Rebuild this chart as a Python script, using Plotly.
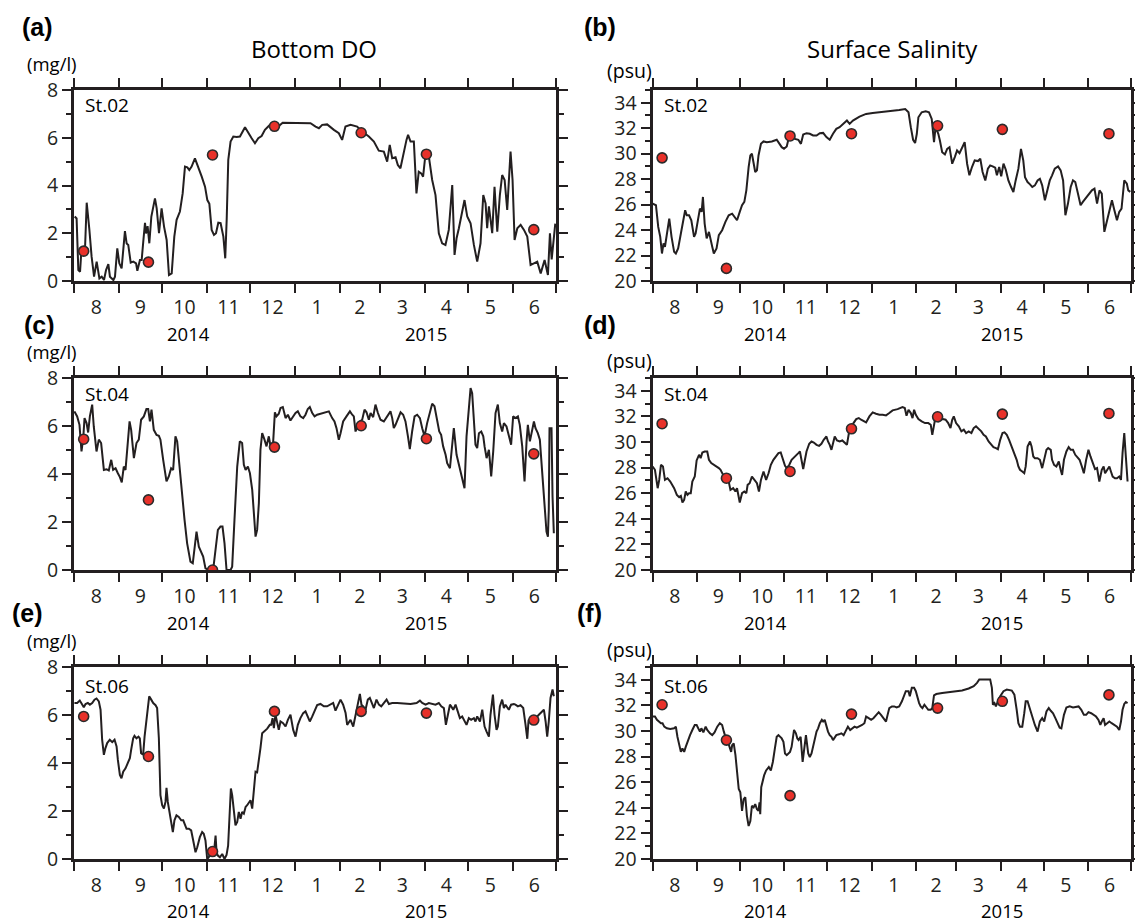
import pandas as pd
import plotly.graph_objects as go

W, H = 1135, 923
START = pd.Timestamp("2014-08-01")
END = pd.Timestamp("2015-07-01")

INK = "#231f20"
DOT = "#e8312a"
FONT = "Open Sans"

# Survey (ship observation) days, counted from 1 Aug 2014
obs_day = [6.7, 51.6, 96.0, 138.9, 199.0, 244.2, 318.6]

# ---- St.02 bottom DO (mg/l) ----
a_day = [0.5, 1.8, 3.0, 4.2, 5.3, 6.5, 7.6, 8.8, 10.6, 12.2, 13.9, 15.7, 17.6, 19.2, 20.8, 22.2, 23.8, 24.9, 27.3, 28.4,
         30.0, 31.4, 33.0, 35.3, 36.5, 37.6, 39.3, 41.1, 43.0, 43.9, 45.7, 46.9, 48.0, 49.2, 49.9, 51.0, 52.2, 53.6, 56.1, 57.3,
         58.9, 60.7, 62.4, 64.2, 65.8, 67.7, 69.5, 71.1, 73.4, 75.3, 76.9, 78.5, 79.9, 81.5, 83.8, 86.1, 88.5, 90.8, 92.4, 93.8,
         95.4, 97.0, 98.4, 100.0, 101.6, 103.5, 104.8, 105.8, 106.9, 108.5, 110.4, 112.7, 115.0, 118.5, 120.8, 123.1, 125.4, 127.7, 130.0, 132.3,
         134.6, 136.9, 139.3, 141.6, 144.6, 149.7,
         157.0, 163.9, 167.4, 169.7, 172.0, 175.4, 180.1, 183.5, 185.8, 188.1, 191.6, 196.2, 199.7, 204.3, 207.8, 211.2, 214.7, 217.0, 218.8, 220.5,
         222.8, 224.4, 226.2, 228.5, 230.4, 231.5, 233.2, 235.5, 237.3, 238.9, 240.6, 241.9, 243.5, 245.9, 248.2, 250.5, 252.8, 255.1, 257.4, 259.7,
         262.1, 263.7, 265.1, 266.7, 269.0, 270.6, 272.5, 274.8, 277.1, 279.4, 281.7, 283.6, 285.2, 286.3, 287.5, 288.7, 289.8, 291.4, 293.3, 295.1,
         296.7, 298.4, 300.2, 302.5, 303.9, 305.3, 307.2, 309.5, 311.8, 314.1, 316.4, 318.7, 321.0, 323.4, 326.1, 328.4, 329.8, 331.0, 333.5]
a_val = [2.70, 2.62, 0.46, 0.39, 1.44, 1.16, 1.30, 3.28, 2.18, 1.02, 0.18, 0.81, 0.11, 0.18, 0.04, 0.46, 0.71, 0.18, 0.04, 0.18,
         1.37, 0.74, 0.53, 2.09, 1.57, 1.51, 0.77, 0.81, 0.74, 0.43, 0.88, 0.88, 1.65, 2.44, 1.99, 2.30, 1.58, 2.70, 3.46, 3.04,
         2.00, 3.04, 2.28, 1.72, 0.25, 0.32, 1.86, 2.56, 2.91, 3.67, 4.79, 4.76, 4.65, 4.79, 5.14, 4.79, 4.37, 3.95, 3.39, 3.23,
         2.14, 1.93, 2.00, 2.44, 2.42, 1.86, 0.95, 2.56, 5.07, 5.84, 6.05, 6.03, 6.05, 6.44, 6.19, 5.98, 5.77, 5.98, 6.07, 6.33,
         6.47, 6.61, 6.40, 6.47, 6.63, 6.63,
         6.63, 6.61, 6.47, 6.40, 6.54, 6.56, 6.33, 6.19, 5.91, 6.47, 6.54, 6.47, 6.26, 6.05, 5.84, 5.46, 5.42, 5.00, 5.70, 5.14,
         5.18, 4.86, 4.72, 5.42, 5.91, 6.12, 5.84, 5.84, 3.67, 4.58, 4.51, 4.37, 5.28, 5.21, 4.23, 3.60, 2.00, 1.58, 1.51, 2.14,
         4.02, 1.09, 1.79, 2.21, 2.91, 3.39, 2.70, 2.42, 1.51, 0.81, 1.58, 3.60, 3.25, 2.21, 3.13, 2.56, 2.00, 3.95, 2.07, 3.60,
         4.44, 4.23, 2.98, 5.42, 4.23, 1.72, 2.21, 2.35, 2.14, 1.86, 0.67, 0.74, 0.81, 0.32, 0.88, 0.25, 2.00, 0.90, 2.40]
a_obs = [1.25, 0.79, 5.28, 6.48, 6.21, 5.31, 2.15]

# ---- St.02 surface salinity (psu) ----
b_day = [0.1, 2.4, 4.0, 5.4, 6.6, 7.7, 8.7, 10.5, 11.7, 13.3, 15.1, 16.3, 17.9, 19.8, 21.6, 22.8, 23.9, 25.5, 27.1, 29.0,
         30.1, 31.8, 33.1, 34.3, 35.2, 36.4, 37.8, 39.4, 40.5, 41.7, 42.8, 44.7, 46.3, 48.6, 50.9, 53.2, 55.6, 57.2, 59.0, 60.9,
         62.5, 64.1, 65.5, 67.1, 68.3, 69.4, 70.6, 71.7, 72.9, 74.0, 75.7, 77.5, 79.8, 83.3, 86.7, 88.6, 90.2, 91.8, 93.7, 95.5,
         97.1, 99.4, 101.8, 103.6, 105.2, 107.5, 109.8, 112.1, 114.5, 116.8, 119.1, 121.4, 123.7, 126.0, 128.3, 130.6, 132.9, 135.7, 137.6, 139.9,
         144.5, 149.1, 153.7, 158.4,
         165.3, 172.2, 176.4, 178.7, 180.3, 181.9, 183.3, 184.5, 185.6, 187.9, 190.7, 193.0, 194.9, 196.5, 197.6, 199.5, 200.6, 202.2, 204.1, 205.7,
         207.3, 209.2, 211.0, 212.6, 214.3, 215.6, 217.9, 219.6, 221.2, 223.0, 224.9, 227.2, 228.8, 230.4, 232.3, 234.1, 235.7, 237.4, 239.2, 240.4,
         242.0, 243.4, 245.0, 246.6, 248.4, 250.3, 251.9, 253.5, 255.4, 257.2, 258.8, 260.0, 261.8, 263.5, 265.1, 266.9, 268.8, 270.4, 272.0, 273.9,
         275.7, 277.3, 278.9, 280.8, 283.1, 284.9, 286.6, 288.2, 290.0, 291.9, 293.5, 295.1, 297.0, 298.8, 300.4, 301.6, 303.4, 305.0, 306.7, 308.5,
         310.3, 312.0, 313.6, 315.4, 317.3, 318.9, 320.7, 322.4, 324.2, 325.8, 327.4, 329.3, 331.1, 332.1, 333.5]
b_val = [26.08, 25.95, 24.25, 23.47, 22.16, 22.95, 22.69, 23.86, 24.90, 23.47, 22.29, 22.16, 22.56, 23.73, 24.77, 25.56, 25.16, 25.16, 24.77, 23.47,
         23.73, 24.77, 25.69, 25.43, 26.60, 24.51, 23.34, 23.86, 23.21, 22.69, 22.16, 22.56, 23.60, 23.99, 24.64, 25.16, 25.29, 25.03, 24.77, 25.43,
         25.95, 26.21, 27.12, 28.95, 29.86, 29.99, 29.34, 28.56, 28.69, 29.86, 30.77, 30.96, 30.90, 30.96, 31.09, 30.77, 30.51, 30.38, 30.56, 31.43,
         31.50, 31.16, 31.09, 30.77, 31.50, 31.61, 31.56, 31.43, 31.43, 31.61, 31.63, 31.30, 31.09, 31.56, 31.95, 32.08, 32.29, 32.60, 32.34, 32.60,
         32.91, 33.12, 33.20, 33.25,
         33.33, 33.43, 33.51, 33.25, 32.08, 31.09, 30.83, 31.56, 32.86, 33.25, 33.33, 33.25, 32.73, 30.90, 32.08, 31.56, 31.03, 30.12, 29.94, 30.38,
         30.51, 29.21, 29.73, 30.25, 30.04, 30.38, 30.90, 29.21, 28.30, 28.95, 29.47, 29.42, 29.60, 28.56, 27.90, 28.82, 29.08, 29.00, 28.90, 28.30,
         28.95, 28.22, 29.21, 28.74, 27.90, 27.38, 26.99, 27.90, 28.82, 30.38, 29.47, 28.16, 27.77, 27.59, 27.38, 27.51, 27.90, 28.03, 27.51, 26.34,
         27.12, 27.90, 28.30, 28.82, 29.00, 28.69, 27.90, 25.16, 26.08, 27.38, 27.90, 27.77, 26.86, 25.95, 26.21, 26.39, 26.60, 26.86, 27.12, 27.25,
         26.08, 27.12, 26.86, 23.86, 24.77, 25.29, 26.34, 25.56, 24.77, 25.43, 25.69, 27.90, 27.64, 27.12, 27.00]
b_obs = [29.67, 20.99, 31.39, 31.57, 32.19, 31.91, 31.57]

# ---- St.04 bottom DO (mg/l) ----
c_day = [0.3, 2.2, 3.8, 5.2, 6.4, 7.3, 8.7, 9.8, 11.0, 12.6, 13.7, 15.6, 17.2, 18.8, 20.7, 22.5, 24.1, 25.8, 27.1, 28.8,
         30.4, 31.8, 33.1, 34.5, 35.7, 36.8, 38.5, 39.6, 41.5, 43.3, 44.9, 46.5, 48.4, 50.2, 51.4, 52.6, 53.7, 55.3, 57.2, 58.8,
         59.9, 61.8, 64.1, 65.7, 67.3, 68.7, 70.3, 71.5, 73.3, 74.9, 76.6, 78.4, 80.7, 82.3, 83.5, 84.9, 86.5, 87.7, 89.5, 91.1,
         93.4, 96.4, 98.1, 99.7, 101.5, 102.9, 104.3, 105.7, 108.5, 109.6, 111.2, 113.1, 114.9, 116.5, 117.7, 118.9, 120.5, 121.9, 123.5, 124.6,
         125.8, 126.9, 128.1, 129.2, 130.4, 132.0, 133.4, 135.0, 136.2, 137.8, 139.2, 140.3, 141.9, 143.1, 144.7, 146.6, 148.2, 150.0, 151.9, 153.5,
         155.1, 156.9, 158.8, 160.4, 162.0, 163.4, 165.1, 166.7, 168.5, 171.3, 174.3, 176.6, 178.9, 180.5, 181.9, 183.5, 184.7, 186.5, 188.8, 191.2,
         192.8, 193.9, 195.1, 196.7, 198.1, 199.7, 201.3, 202.7, 204.3, 205.5, 207.3, 208.9, 210.6, 212.4, 214.7, 217.0, 219.3, 220.5, 221.6, 222.8,
         224.4, 226.3, 228.1, 229.7, 231.4, 232.7, 234.3, 236.0, 237.8, 239.7, 241.3, 242.9, 244.7, 246.6, 248.2, 249.8, 251.7, 253.1, 254.4, 255.8,
         257.5, 258.6, 260.5, 262.1, 263.2, 265.1, 266.7, 267.8, 269.0, 270.6, 272.0, 273.6, 274.8, 275.9, 277.1, 278.2, 279.4, 280.6, 282.2, 283.6,
         284.5, 285.9, 287.5, 289.1, 290.5, 292.1, 293.7, 295.1, 296.7, 297.9, 299.7, 301.3, 302.9, 304.3, 305.9, 307.6, 308.9, 310.6, 312.2, 313.6,
         314.5, 315.9, 317.5, 318.7, 319.8, 321.4, 322.8, 324.4, 326.0, 327.4, 328.4, 329.0, 329.5, 330.9, 331.6, 332.5]
c_val = [6.61, 6.40, 6.05, 4.94, 5.50, 6.33, 6.12, 5.73, 6.40, 6.89, 5.98, 4.94, 5.43, 5.29, 4.17, 4.20, 4.15, 4.59, 4.17, 4.24,
         4.03, 3.87, 3.65, 4.31, 4.17, 5.08, 6.19, 5.84, 4.66, 5.29, 5.43, 6.26, 6.40, 6.71, 6.71, 6.19, 6.68, 5.84, 5.63, 5.59,
         5.43, 4.59, 3.69, 3.90, 4.24, 4.17, 5.57, 5.36, 4.17, 3.06, 2.09, 1.11, 0.35, 0.28, 0.90, 1.60, 0.97, 0.77, 0.56, 0.07,
         0.00, 0.00, 0.97, 1.67, 1.81, 1.81, 1.11, 0.00, 0.00, 0.14, 2.09, 4.31, 5.36, 5.29, 4.38, 4.17, 4.31, 4.03, 3.34, 2.50,
         1.39, 1.67, 2.78, 5.01, 5.70, 5.43, 5.15, 5.57, 5.15, 5.12, 6.57, 6.40, 6.51, 6.75, 6.79, 6.33, 6.47, 6.23, 6.43, 6.54,
         6.61, 6.40, 6.33, 6.47, 6.71, 6.79, 6.54, 6.40, 6.47, 6.51, 6.57, 6.61, 6.33, 6.19, 5.91, 5.43, 5.70, 6.19, 6.40, 6.61,
         6.47, 6.40, 5.77, 6.05, 6.19, 6.26, 6.68, 6.57, 6.26, 6.54, 6.37, 6.89, 6.54, 6.26, 6.19, 6.40, 6.61, 6.33, 5.91, 6.05,
         6.26, 6.57, 6.47, 6.19, 5.57, 5.04, 5.77, 6.40, 6.47, 6.33, 5.91, 5.57, 6.12, 6.54, 6.93, 6.82, 6.12, 5.77, 5.63, 5.15,
         4.80, 4.45, 4.24, 5.15, 5.91, 4.80, 4.38, 4.17, 3.76, 3.41, 5.57, 6.96, 7.58, 7.37, 6.40, 5.22, 5.08, 5.70, 5.77, 5.57,
         5.15, 4.66, 5.01, 3.90, 4.94, 6.54, 6.89, 6.12, 5.77, 6.12, 5.98, 5.57, 5.22, 6.40, 6.33, 6.40, 6.05, 5.15, 3.69, 5.36,
         6.05, 5.36, 5.77, 6.19, 5.91, 5.70, 5.43, 4.17, 2.50, 1.60, 1.39, 2.50, 5.91, 5.91, 3.06, 1.53]
c_obs = [5.45, 2.92, 0.00, 5.12, 6.01, 5.47, 4.84]

# ---- St.04 surface salinity (psu) ----
d_day = [0.1, 1.7, 3.6, 4.7, 5.9, 7.3, 8.7, 10.5, 12.4, 14.0, 15.1, 17.0, 18.6, 19.8, 20.9, 22.1, 23.2, 24.4, 25.5, 26.7,
         27.8, 29.5, 30.8, 32.5, 33.6, 34.8, 36.4, 38.2, 39.4, 41.0, 42.9, 44.7, 46.3, 47.5, 49.3, 50.9, 52.1, 53.2, 54.4, 56.3,
         57.9, 59.0, 60.9, 62.5, 64.1, 65.5, 66.4, 67.8, 69.4, 71.0, 72.9, 74.3, 75.7, 77.5, 79.3, 81.0, 82.6, 84.4, 86.3, 87.9,
         89.5, 90.9, 92.5, 93.7, 95.5, 97.1, 98.3, 100.6, 101.8, 102.9, 104.1, 105.2, 106.4, 107.5, 109.4, 111.0, 112.6, 114.5, 116.3, 117.9,
         119.5, 121.4, 122.5, 123.7, 124.9, 126.0, 127.2, 128.8, 130.6, 132.5, 134.1, 135.7, 137.1, 138.7, 140.3, 142.2, 144.0, 145.6, 147.3, 149.1,
         151.4, 153.7, 156.0, 158.4, 160.7, 163.0, 165.3, 167.6, 171.1, 174.5, 176.1, 177.3, 178.7, 180.3, 181.5, 182.6, 183.8, 185.6, 187.9, 190.2,
         192.5, 194.2, 195.3, 196.5, 197.6, 199.5, 201.1, 202.7, 204.6, 206.4, 208.0, 209.2, 210.3, 211.9, 213.8, 215.6, 217.3, 218.9, 220.7, 222.6,
         224.2, 225.8, 227.7, 229.5, 231.1, 232.7, 234.6, 236.4, 238.0, 239.7, 241.1, 242.7, 244.3, 245.7, 247.3, 248.9, 250.3, 251.9, 253.1, 254.2,
         255.4, 256.5, 258.1, 259.5, 260.5, 261.8, 263.5, 264.6, 265.8, 266.9, 268.8, 270.4, 272.0, 273.4, 275.0, 276.2, 278.0, 278.9, 280.3, 281.9,
         283.6, 284.9, 285.9, 287.2, 288.9, 290.5, 291.9, 293.5, 295.1, 296.5, 298.1, 299.7, 301.1, 302.7, 304.3, 305.7, 307.3, 308.9, 310.3, 311.9,
         313.6, 314.9, 315.9, 317.3, 318.9, 320.0, 321.2, 322.8, 324.2, 325.8, 327.0, 328.1, 329.3, 330.4, 331.6]
d_val = [28.09, 27.83, 26.39, 27.04, 28.22, 28.09, 27.04, 27.17, 26.91, 26.65, 26.39, 25.87, 25.69, 25.79, 25.27, 25.48, 26.13, 25.87, 26.00, 26.00,
         26.91, 27.30, 28.56, 29.00, 28.74, 29.18, 29.26, 29.26, 28.61, 28.35, 28.22, 28.09, 27.96, 27.83, 27.43, 27.30, 27.04, 26.91, 26.26, 26.39,
         26.13, 26.39, 25.27, 26.00, 26.13, 26.00, 26.65, 26.78, 27.30, 27.04, 26.78, 26.13, 27.04, 27.70, 27.04, 27.56, 28.22, 28.61, 28.87, 29.13,
         29.18, 28.74, 28.14, 27.96, 28.22, 28.61, 28.74, 28.92, 29.13, 29.26, 28.66, 27.88, 28.61, 29.26, 29.86, 30.04, 29.96, 29.78, 29.70, 29.86,
         30.17, 30.43, 30.04, 29.78, 29.39, 29.96, 30.43, 30.12, 30.04, 30.12, 29.91, 29.78, 30.70, 31.09, 31.48, 31.79, 31.87, 31.74, 31.61, 31.53,
         32.00, 32.31, 32.21, 32.13, 32.13, 32.08, 32.26, 32.47, 32.57, 32.73, 32.65, 32.05, 32.52, 32.26, 31.87, 32.52, 32.13, 31.79, 31.61, 31.48,
         31.48, 31.35, 30.56, 31.48, 32.00, 31.61, 31.74, 31.79, 31.74, 31.48, 31.09, 31.74, 32.00, 31.48, 31.22, 30.83, 30.96, 30.70, 30.83, 30.70,
         31.09, 31.22, 31.01, 30.83, 30.56, 30.43, 30.04, 29.78, 29.60, 29.52, 29.44, 30.17, 30.70, 30.75, 30.56, 30.17, 29.78, 29.39, 29.00, 28.61,
         28.09, 27.83, 27.70, 27.56, 28.09, 29.65, 30.04, 29.65, 28.87, 28.74, 28.74, 28.61, 27.96, 28.74, 29.39, 29.52, 29.39, 28.61, 28.22, 28.09,
         28.48, 27.83, 27.43, 28.61, 29.26, 29.60, 29.39, 29.39, 29.00, 28.82, 28.61, 28.09, 27.56, 28.61, 29.39, 28.87, 28.35, 27.88, 27.96, 26.91,
         27.83, 28.09, 27.56, 27.83, 28.09, 27.70, 27.30, 27.17, 27.17, 27.30, 27.04, 29.13, 30.70, 28.87, 26.91]
d_obs = [31.43, 27.17, 27.70, 31.03, 31.97, 32.18, 32.23]

# ---- St.06 bottom DO (mg/l) ----
e_day = [0.3, 2.2, 4.0, 5.7, 6.8, 8.0, 9.6, 11.0, 12.6, 14.2, 15.6, 17.2, 18.4, 19.5, 20.7, 21.8, 23.0, 24.8, 26.5, 28.1,
         29.5, 30.4, 31.8, 32.9, 34.1, 35.7, 37.3, 38.7, 39.6, 41.0, 41.9, 43.3, 44.7, 45.6, 46.5, 47.9, 48.9, 50.2, 51.2, 52.1,
         53.5, 54.9, 56.5, 57.6, 58.8, 59.9, 61.1, 62.3, 63.4, 64.1, 65.0, 66.4, 67.3, 68.5, 69.6, 71.0, 72.6, 74.3, 75.7, 76.6,
         78.0, 79.6, 81.2, 82.6, 84.2, 85.4, 87.2, 88.8, 89.9, 91.1, 92.3, 93.4, 95.1, 96.9, 98.1, 98.8, 99.7, 101.1, 102.7, 104.3,
         105.7, 106.8, 108.0, 108.7, 109.6, 110.8, 111.9, 113.1, 114.2, 115.4, 116.5, 117.7, 118.9, 120.0, 121.2, 122.3, 123.5, 124.6, 125.8, 126.9,
         128.1, 129.2, 130.4, 132.0, 133.9, 135.7, 136.6, 137.6, 138.5, 139.6, 140.8, 141.9, 143.1, 144.9, 146.6, 148.2, 150.0, 151.9, 153.5, 155.1,
         156.9, 158.8, 160.4, 162.0, 163.4, 165.1, 166.7, 168.5, 170.8, 173.1, 175.4, 177.8, 179.6, 181.2, 182.8, 184.7, 186.5, 188.2, 189.3, 190.5,
         191.6, 193.5, 195.1, 196.7, 198.1, 199.2, 200.4, 202.0, 203.6, 205.0, 206.6, 207.8, 209.6, 211.3, 212.9, 214.7, 216.6, 218.2, 220.5, 223.9,
         228.6, 233.2, 237.4, 239.7, 241.3, 243.6, 245.9, 248.2, 250.5, 252.8, 254.5, 256.3, 257.7, 259.1, 260.5, 261.4, 262.8, 264.4, 266.0, 267.4,
         269.0, 270.6, 272.0, 273.6, 275.2, 277.1, 278.2, 279.4, 281.3, 282.9, 284.5, 285.9, 287.5, 288.6, 290.3, 291.4, 292.8, 293.7, 295.1, 296.7,
         297.9, 299.0, 300.2, 301.3, 302.9, 304.8, 305.9, 307.6, 309.4, 311.3, 312.9, 314.1, 315.0, 316.4, 317.5, 318.7, 319.8, 321.0, 322.1, 323.3,
         324.4, 325.6, 326.8, 327.9, 329.0, 330.2, 331.6, 332.5]
e_val = [6.50, 6.50, 6.60, 6.43, 6.32, 6.46, 6.50, 6.43, 6.50, 6.64, 6.69, 6.57, 6.22, 4.97, 4.34, 4.62, 4.83, 4.97, 4.87, 4.97,
         4.69, 4.13, 3.50, 3.36, 3.64, 3.78, 3.99, 4.20, 4.55, 5.03, 5.13, 5.03, 5.10, 5.03, 4.41, 4.34, 5.10, 5.80, 6.29, 6.78,
         6.64, 6.50, 6.41, 6.29, 5.03, 2.66, 2.24, 2.10, 2.38, 2.97, 2.38, 1.82, 1.47, 1.12, 1.61, 1.82, 1.75, 1.61, 1.61, 1.47,
         1.26, 1.26, 1.19, 0.77, 0.28, 0.49, 0.91, 1.12, 1.05, 0.77, 0.00, 0.07, 0.35, 0.21, 0.98, 0.28, 0.14, 0.07, 0.21, 0.00,
         0.17, 0.56, 1.82, 2.94, 2.66, 2.10, 1.40, 1.54, 1.96, 1.68, 1.96, 1.89, 2.17, 2.24, 2.38, 2.45, 2.10, 2.87, 3.64, 3.61,
         4.06, 4.62, 5.24, 5.34, 5.43, 5.59, 5.59, 5.87, 5.45, 6.01, 5.73, 5.38, 5.73, 5.66, 5.52, 5.80, 6.01, 5.38, 5.10, 5.59,
         5.87, 6.08, 6.15, 5.94, 5.73, 5.94, 6.15, 6.41, 6.46, 6.36, 6.36, 6.43, 6.50, 6.18, 6.41, 6.64, 6.43, 6.08, 5.59, 5.73,
         5.80, 5.52, 6.01, 6.43, 6.88, 6.43, 6.36, 6.22, 6.64, 6.71, 6.50, 6.29, 6.64, 6.43, 6.36, 6.50, 6.64, 6.46, 6.50, 6.50,
         6.48, 6.46, 6.50, 6.60, 6.50, 6.43, 6.50, 6.46, 6.43, 6.50, 6.36, 6.29, 5.59, 6.01, 6.43, 6.36, 6.22, 6.43, 6.15, 5.87,
         5.94, 5.73, 5.59, 5.87, 5.80, 5.87, 5.73, 5.94, 5.73, 6.22, 5.52, 5.31, 5.10, 6.01, 6.85, 6.01, 5.38, 5.52, 6.36, 6.64,
         6.29, 6.43, 6.29, 6.22, 6.43, 6.46, 6.43, 6.36, 6.41, 6.29, 5.59, 5.01, 5.80, 5.73, 5.73, 5.66, 5.73, 5.94, 6.01, 6.08,
         6.15, 6.22, 5.73, 5.10, 5.73, 6.71, 7.06, 6.78]
e_obs = [5.94, 4.27, 0.31, 6.15, 6.15, 6.08, 5.79]

# ---- St.06 surface salinity (psu) ----
f_day = [0.1, 1.7, 3.1, 4.7, 5.9, 7.0, 8.2, 10.0, 12.4, 15.1, 16.3, 17.4, 18.6, 19.8, 20.9, 22.1, 23.2, 24.4, 26.2, 27.8,
         29.5, 30.8, 31.8, 33.1, 34.1, 35.5, 37.1, 38.2, 40.1, 41.7, 43.3, 45.2, 47.0, 48.6, 49.8, 50.9, 52.6, 53.9, 54.9, 55.6,
         56.7, 57.9, 59.0, 60.2, 61.3, 62.5, 63.6, 64.8, 65.9, 67.1, 68.3, 69.4, 70.6, 71.7, 72.9, 74.0, 74.7, 75.2, 75.9, 77.0,
         77.9, 79.3, 80.3, 81.2, 82.6, 84.0, 85.4, 86.7, 87.9, 89.0, 90.2, 91.4, 92.5, 93.7, 94.8, 96.0, 97.1, 98.8, 100.1, 101.1,
         102.0, 103.4, 104.8, 105.9, 107.1, 108.7, 109.8, 111.0, 112.2, 113.3, 114.5, 115.6, 116.8, 118.2, 119.1, 120.2, 121.4, 122.5, 123.7, 124.9,
         126.0, 127.2, 128.3, 130.2, 131.8, 133.4, 134.8, 136.4, 138.0, 139.4, 141.0, 142.6, 144.5, 146.3, 147.9, 149.1, 150.9, 152.6, 154.2, 156.0,
         157.9, 159.5, 161.1, 163.0, 164.1, 165.3, 167.1, 168.7, 170.4, 172.2, 174.1, 175.7, 176.8, 178.7, 179.6, 181.0, 182.6, 183.8, 184.9, 186.1,
         187.2, 188.4, 189.8, 191.2, 192.5, 194.2, 195.3, 196.5, 198.1, 202.2, 206.9, 211.5, 216.1, 220.7, 224.2, 226.5, 228.1, 232.3, 235.7, 236.9,
         237.6, 238.7, 239.7, 241.1, 242.7, 245.0, 247.3, 250.8, 252.6, 254.2, 255.4, 256.5, 258.1, 259.5, 260.5, 261.8, 263.5, 265.1, 266.9, 268.8,
         270.4, 272.0, 273.4, 275.0, 276.6, 278.0, 279.6, 281.2, 282.6, 284.2, 285.4, 287.2, 288.9, 291.2, 293.5, 295.8, 297.4, 299.3, 301.1, 302.7,
         304.3, 306.2, 308.0, 309.6, 311.3, 312.6, 313.6, 314.9, 315.9, 317.3, 318.9, 320.5, 322.4, 324.2, 325.8, 327.0, 328.1, 329.3, 330.4, 331.6]
f_val = [31.13, 31.13, 30.87, 30.74, 30.61, 30.61, 30.34, 30.21, 30.16, 30.21, 30.34, 29.55, 28.89, 28.37, 28.63, 28.37, 28.76, 29.16, 29.68, 30.08,
         30.47, 30.47, 30.21, 29.95, 30.21, 29.89, 30.34, 30.08, 29.82, 29.68, 29.89, 30.34, 30.61, 30.47, 29.95, 29.55, 29.16, 28.76, 28.37, 28.89,
         29.03, 28.11, 26.66, 25.47, 25.21, 23.76, 24.68, 24.82, 23.37, 22.58, 22.97, 24.16, 24.03, 24.29, 23.89, 23.76, 24.42, 23.50, 25.61, 26.13,
         26.53, 26.92, 27.05, 27.18, 26.92, 27.58, 28.63, 29.55, 29.68, 29.55, 29.42, 29.16, 28.24, 28.11, 28.24, 28.37, 28.76, 30.08, 29.82, 29.42,
         29.29, 29.55, 27.58, 28.76, 29.68, 28.24, 27.97, 28.24, 28.89, 29.29, 29.95, 30.21, 30.61, 30.87, 30.74, 30.87, 30.34, 29.95, 29.68, 29.55,
         29.29, 29.55, 29.68, 29.74, 29.82, 29.68, 29.95, 30.34, 30.08, 30.21, 30.34, 30.26, 30.34, 30.47, 30.61, 31.13, 31.00, 30.87, 31.00, 31.26,
         31.47, 31.26, 31.00, 30.74, 31.26, 31.79, 31.92, 31.92, 31.84, 31.92, 32.32, 32.84, 33.11, 33.11, 32.71, 33.37, 33.37, 33.11, 32.58, 32.18,
         31.92, 31.79, 32.05, 31.79, 31.66, 31.66, 31.79, 32.79, 32.89, 32.97, 33.05, 33.11, 33.16, 33.32, 33.50, 33.76, 34.03, 34.03, 34.03, 33.37,
         32.05, 32.18, 31.92, 32.32, 32.71, 33.11, 33.24, 33.16, 32.84, 31.66, 30.61, 30.34, 30.34, 31.39, 32.32, 32.32, 31.66, 31.13, 30.47, 29.95,
         30.74, 31.00, 30.74, 31.53, 31.79, 31.58, 31.39, 31.00, 30.61, 30.26, 30.21, 31.26, 31.84, 31.92, 31.84, 31.92, 31.92, 31.66, 31.26, 31.26,
         31.47, 31.39, 31.26, 31.13, 30.87, 30.47, 30.74, 31.00, 30.47, 30.61, 30.74, 30.61, 30.47, 30.34, 30.08, 30.74, 31.66, 32.11, 32.26, 32.18]
f_obs = [32.05, 29.29, 24.95, 31.32, 31.79, 32.32, 32.82]

column_titles = ["Bottom DO", "Surface Salinity"]
units = ["(mg/l)", "(psu)"]
year_labels = [("2014", "2014-10-19"), ("2015", "2015-04-02")]

panels = [
    ("(a)", "St.02", 0, 0, a_day, a_val, a_obs),
    ("(b)", "St.02", 0, 1, b_day, b_val, b_obs),
    ("(c)", "St.04", 1, 0, c_day, c_val, c_obs),
    ("(d)", "St.04", 1, 1, d_day, d_val, d_obs),
    ("(e)", "St.06", 2, 0, e_day, e_val, e_obs),
    ("(f)", "St.06", 2, 1, f_day, f_val, f_obs),
]

# page geometry (pixels)
COLS = [(74.0, 556.0), (652.5, 1131.0)]
ROWS = [(90.0, 281.0), (378.0, 570.0), (667.0, 859.0)]
LETTER_Y = [27, 325, 613]
LETTER_X = {"(a)": 20, "(b)": 582, "(c)": 22, "(d)": 582, "(e)": 10, "(f)": 575}
STATION_DY = [15, 16, 19]
YEAR_DY = [52, 52, 51.3]
MGL_DY = [26.5, 26.5, 26.5]
PSU_DY = [19, 18, 18]


def fx(p):
    return p / W


def fy(p):
    return 1 - p / H


def to_dates(days):
    return START + pd.to_timedelta(pd.Series(days, dtype=float), unit="D")


fig = go.Figure()
annotations = []
axis_font = dict(family=FONT, size=19.5, color=INK)

for i, (letter, station, r, c, day, val, obs) in enumerate(panels, start=1):
    xn = "x" if i == 1 else f"x{i}"
    yn = "y" if i == 1 else f"y{i}"
    x0, x1 = COLS[c]
    top, bot = ROWS[r]

    fig.add_trace(go.Scatter(
        x=to_dates(day), y=val, mode="lines",
        line=dict(color=INK, width=2), xaxis=xn, yaxis=yn, showlegend=False,
        hoverinfo="skip"))
    fig.add_trace(go.Scatter(
        x=to_dates(obs_day), y=obs, mode="markers",
        marker=dict(size=10, color=DOT, line=dict(color="#2b2b2b", width=1.6)),
        xaxis=xn, yaxis=yn, showlegend=False))

    fig.layout["xaxis" if i == 1 else f"xaxis{i}"] = dict(
        domain=[fx(x0), fx(x1)], anchor=yn, type="date", automargin=False,
        range=[START, END], tickmode="linear", tick0=START, dtick="M1",
        ticklabelmode="period", tickformat="%-m", ticklabelstandoff=-2,
        ticks="outside", ticklen=9, tickwidth=1.5, tickcolor=INK,
        showline=True, linewidth=3, linecolor=INK, mirror="ticks",
        showgrid=False, zeroline=False, tickfont=axis_font)

    if c == 0:
        yr, yminor = [0, 8], 0
    else:
        yr, yminor = [20, 35], 20
    fig.layout["yaxis" if i == 1 else f"yaxis{i}"] = dict(
        domain=[fy(bot), fy(top)], anchor=xn, range=yr, automargin=False,
        tickmode="linear", tick0=yminor, dtick=2,
        ticks="outside", ticklen=9, tickwidth=1.5, tickcolor=INK,
        minor=dict(tickmode="linear", tick0=yminor, dtick=1, ticks="outside",
                   ticklen=5, tickwidth=1.5, tickcolor=INK, showgrid=False),
        showline=True, linewidth=3, linecolor=INK, mirror="ticks",
        showgrid=False, zeroline=False, tickfont=axis_font)

    # panel letter
    annotations.append(dict(
        text=f"<b>{letter}</b>", x=fx(LETTER_X[letter]), y=fy(LETTER_Y[r]),
        xref="paper", yref="paper", xanchor="left", yanchor="middle",
        showarrow=False, font=dict(family="Liberation Sans", size=25, color="#000")))
    # station name inside the frame
    annotations.append(dict(
        text=station, x=fx(x0 + 9), y=fy(top + STATION_DY[r]),
        xref="paper", yref="paper", xanchor="left", yanchor="middle",
        showarrow=False, font=dict(family=FONT, size=19, color="#000")))
    # unit above the value axis
    if c == 0:
        annotations.append(dict(
            text=units[0], x=fx(52), y=fy(top - MGL_DY[r]), xref="paper", yref="paper",
            xanchor="center", yanchor="middle", showarrow=False,
            font=dict(family=FONT, size=18.5, color="#000")))
    else:
        annotations.append(dict(
            text=units[1], x=fx(629), y=fy(top - PSU_DY[r]), xref="paper", yref="paper",
            xanchor="center", yanchor="middle", showarrow=False,
            font=dict(family=FONT, size=19.5, color="#000")))
    # year labels beneath the month ticks
    for label, when in year_labels:
        annotations.append(dict(
            text=label, x=when, y=fy(bot + YEAR_DY[r]), xref=xn, yref="paper",
            xanchor="center", yanchor="middle", showarrow=False,
            font=dict(family=FONT, size=18.5, color="#000")))

for k, title in enumerate(column_titles):
    annotations.append(dict(
        text=title, x=fx([314, 892][k]), y=fy(48), xref="paper", yref="paper",
        xanchor="center", yanchor="middle", showarrow=False,
        font=dict(family=FONT, size=24, color="#000")))

fig.update_layout(
    width=W, height=H, autosize=False,
    margin=dict(l=0, r=0, t=0, b=0, autoexpand=False),
    paper_bgcolor="white", plot_bgcolor="white",
    font=dict(family=FONT, color=INK),
    annotations=annotations,
)

fig.write_html("out.html")
